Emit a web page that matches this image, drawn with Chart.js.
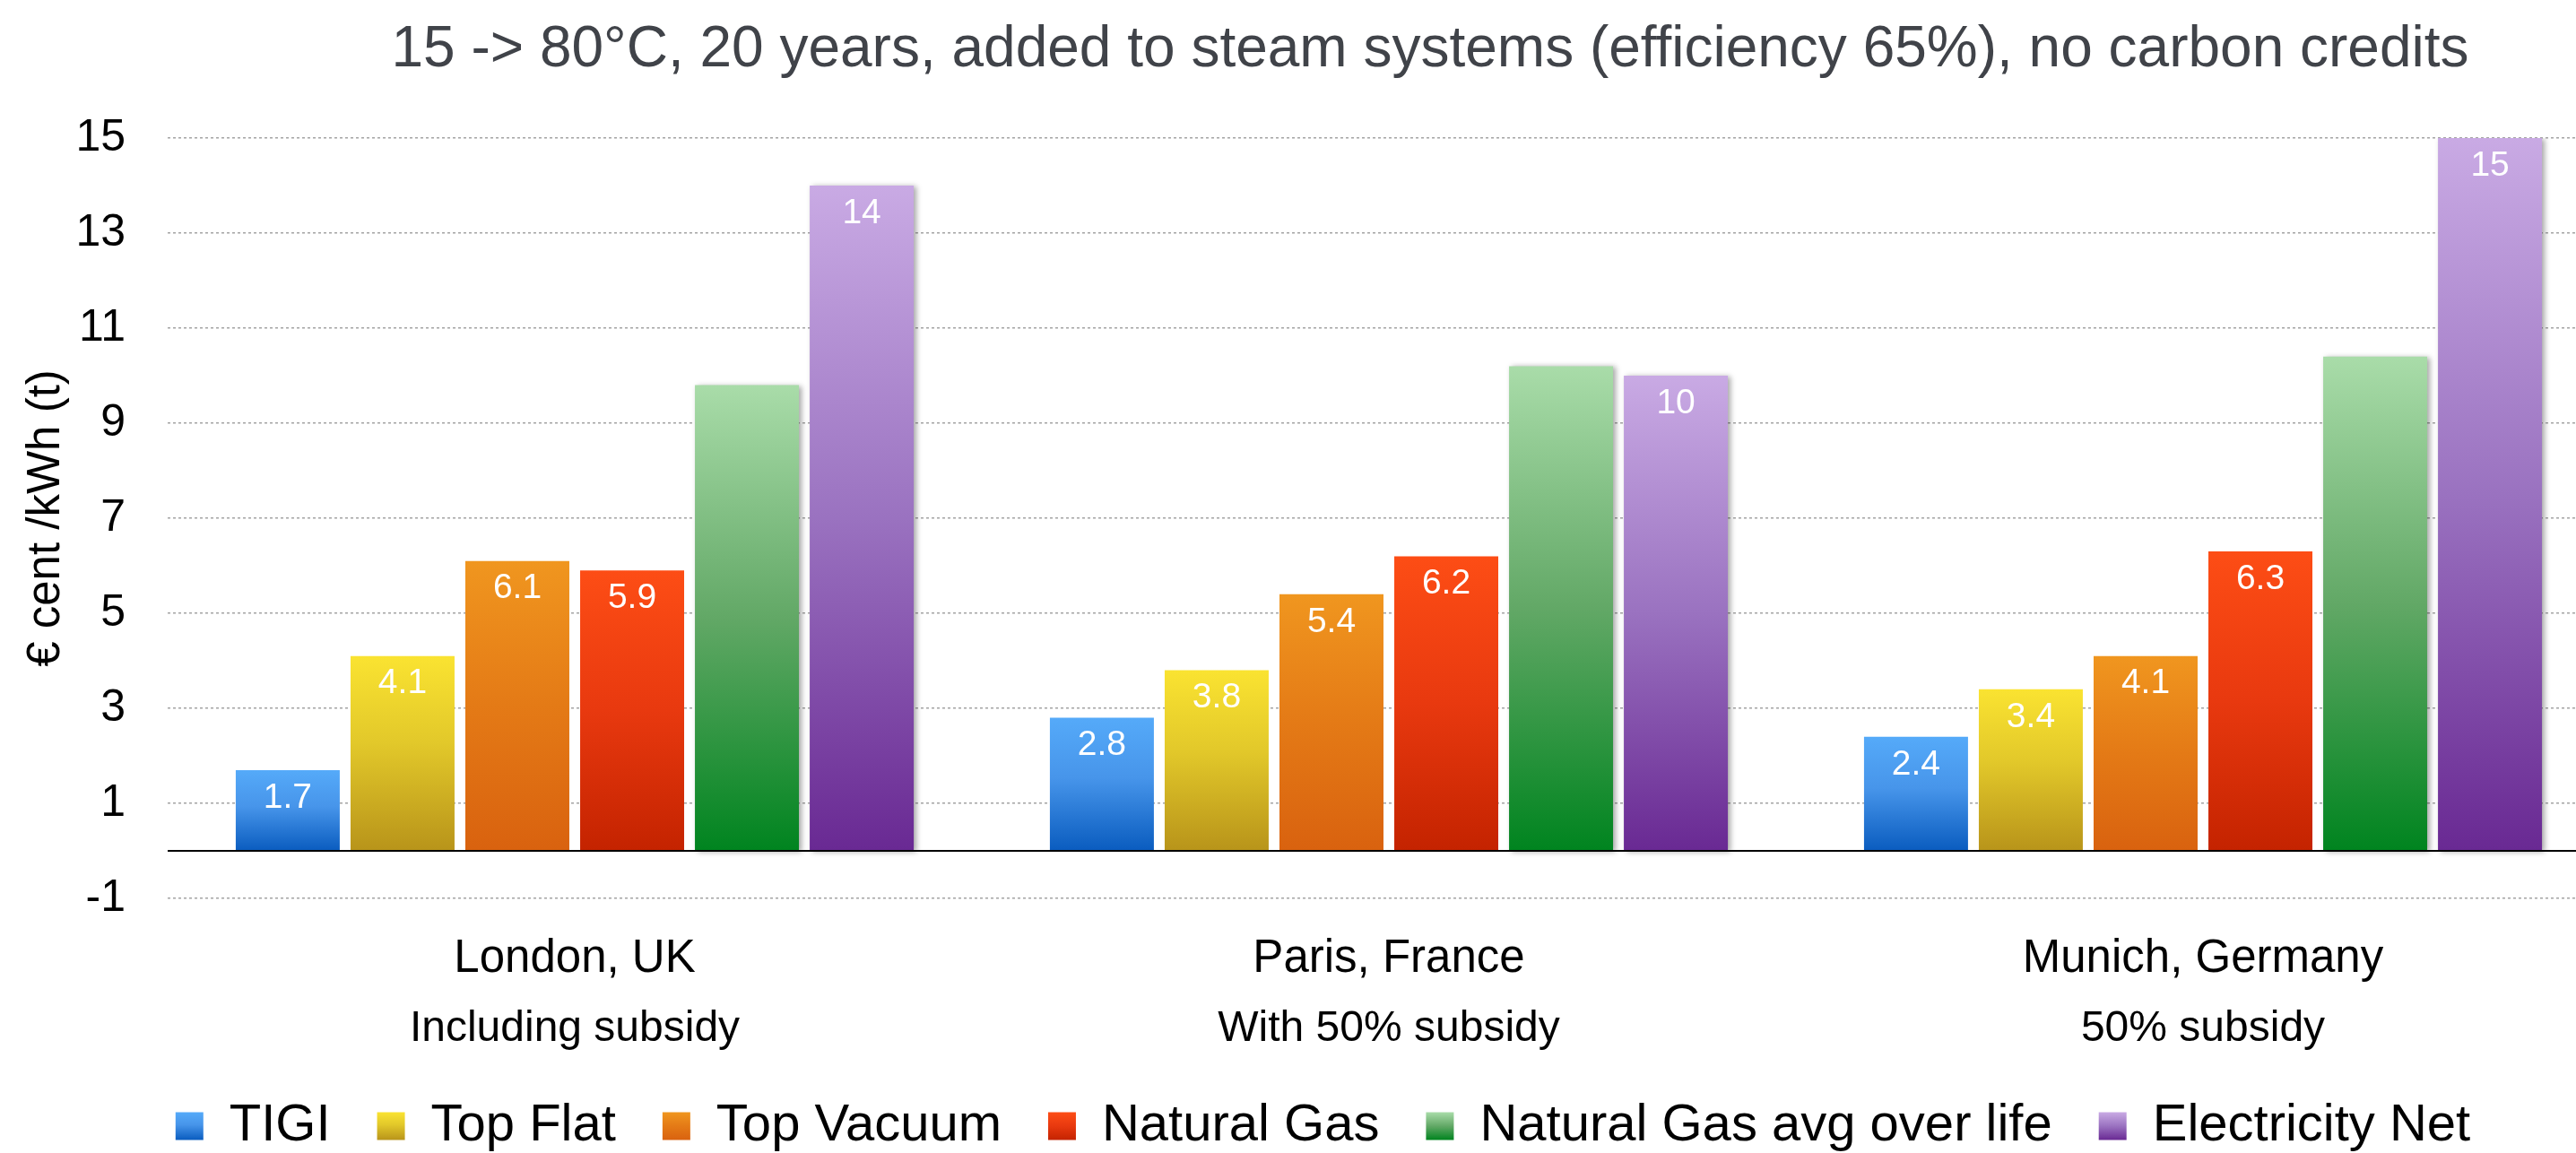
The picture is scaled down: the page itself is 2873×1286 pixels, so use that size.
<!DOCTYPE html>
<html>
<head>
<meta charset="utf-8">
<script src="https://cdn.jsdelivr.net/npm/chart.js@4.4.1/dist/chart.umd.min.js"></script>
<style>
  html, body { margin: 0; padding: 0; overflow: hidden; background: #fff; }
  .chart_box { width: 2911px; height: 1295px; }
</style>
</head>
<body>
<div class="chart_box"><canvas id="myChart"></canvas></div>
<script>
const titleText = '15 -> 80°C, 20 years, added to steam systems (efficiency 65%), no carbon credits';
const cities = ['London, UK', 'Paris, France', 'Munich, Germany'];
const subsidyNotes = ['Including subsidy', 'With 50% subsidy', '50% subsidy'];

const tigi = [1.7, 2.8, 2.4];
const topFlat = [4.1, 3.8, 3.4];
const topVacuum = [6.1, 5.4, 4.1];
const naturalGas = [5.9, 6.2, 6.3];
const naturalGasAvg = [9.8, 10.2, 10.4];
const electricityNet = [14, 10, 15];

const yMin = -1;
const yMax = 15;
const yStep = 2;

const fontFamily = '"Liberation Sans", Arial, sans-serif';

// top -> bottom colour stops for each series
const gradients = {
  tigi: [[0, '#55aaf9'], [0.45, '#4795ea'], [1, '#0a5cbf']],
  topFlat: [[0, '#fae331'], [0.45, '#e2c82a'], [1, '#b8941a']],
  topVacuum: [[0, '#f0961f'], [0.5, '#e47a16'], [1, '#d9620f']],
  naturalGas: [[0, '#fd4d15'], [0.5, '#e8390f'], [1, '#c42300']],
  naturalGasAvg: [[0, '#a9dca9'], [0.5, '#62a866'], [1, '#00841f']],
  electricityNet: [[0, '#c9aae4'], [0.5, '#9a72c0'], [1, '#692993']]
};

function makeGradient(ctx, top, bottom, stops) {
  const g = ctx.createLinearGradient(0, top, 0, bottom);
  stops.forEach(s => g.addColorStop(s[0], s[1]));
  return g;
}

function barFill(stops) {
  return function (context) {
    const chart = context.chart;
    if (context.type !== 'data' || !chart.chartArea) {
      return stops[1][1];
    }
    const y = chart.scales.y;
    const top = y.getPixelForValue(context.raw);
    const base = y.getPixelForValue(0);
    return makeGradient(chart.ctx, top, base, stops);
  };
}

const series = [
  { label: 'TIGI', data: tigi, stops: gradients.tigi, showValue: true },
  { label: 'Top Flat', data: topFlat, stops: gradients.topFlat, showValue: true },
  { label: 'Top Vacuum', data: topVacuum, stops: gradients.topVacuum, showValue: true },
  { label: 'Natural Gas', data: naturalGas, stops: gradients.naturalGas, showValue: true },
  { label: 'Natural Gas avg over life', data: naturalGasAvg, stops: gradients.naturalGasAvg, showValue: false, shadow: true },
  { label: 'Electricity Net', data: electricityNet, stops: gradients.electricityNet, showValue: true, shadow: true }
];

const legendBox = 31;
const legendFont = 58;

const chartDecor = {
  id: 'chartDecor',
  beforeDraw(chart) {
    // gradient legend swatches, once the legend has its place
    const legend = chart.legend;
    if (!legend || !legend.legendHitBoxes) return;
    legend.legendItems.forEach((item, i) => {
      const hb = legend.legendHitBoxes[i];
      const boxTop = hb.top + Math.max((legendFont - legendBox) / 2, 0);
      item.fillStyle = makeGradient(chart.ctx, boxTop, boxTop + legendBox, series[item.datasetIndex].stops);
      item.lineWidth = 0;
      item.strokeStyle = 'rgba(0,0,0,0)';
    });
  },
  beforeDatasetDraw(chart, args) {
    const ctx = chart.ctx;
    ctx.save();
    if (series[args.index].shadow) {
      ctx.shadowColor = 'rgba(0, 0, 0, 0.35)';
      ctx.shadowBlur = 6;
      ctx.shadowOffsetX = 3;
      ctx.shadowOffsetY = 1;
    }
  },
  afterDatasetDraw(chart) {
    chart.ctx.restore();
  },
  afterDatasetsDraw(chart) {
    const ctx = chart.ctx;
    const area = chart.chartArea;
    const zeroY = chart.scales.y.getPixelForValue(0);

    // zero line
    ctx.save();
    ctx.strokeStyle = '#000';
    ctx.lineWidth = 2;
    ctx.beginPath();
    ctx.moveTo(area.left, zeroY);
    ctx.lineTo(area.right, zeroY);
    ctx.stroke();

    // values inside the bars
    ctx.fillStyle = '#fff';
    ctx.font = '39px ' + fontFamily;
    ctx.textAlign = 'center';
    ctx.textBaseline = 'middle';
    series.forEach((s, di) => {
      if (!s.showValue) return;
      chart.getDatasetMeta(di).data.forEach((bar, i) => {
        ctx.fillText(String(s.data[i]), bar.x, bar.y + 31);
      });
    });
    ctx.restore();
  },
  afterDraw(chart) {
    const ctx = chart.ctx;
    ctx.save();
    ctx.fillStyle = '#404349';
    ctx.font = '64px ' + fontFamily;
    ctx.textAlign = 'center';
    ctx.textBaseline = 'alphabetic';
    ctx.fillText(titleText, 1595, 74);
    ctx.restore();
  }
};

document.addEventListener('DOMContentLoaded', () => {
  const ctx = document.getElementById('myChart').getContext('2d');

  const myChart = new Chart(ctx, {
    type: 'bar',
    data: {
      labels: cities,
      datasets: series.map(s => ({
        label: s.label,
        data: s.data,
        backgroundColor: barFill(s.stops),
        borderWidth: 0,
        categoryPercentage: 0.846,
        barPercentage: 0.906
      }))
    },
    plugins: [chartDecor],
    options: {
      responsive: true,
      maintainAspectRatio: false,
      devicePixelRatio: 1,
      animation: false,
      layout: {
        padding: { left: 40, right: 0, top: 154, bottom: 0 }
      },
      scales: {
        x: {
          position: 'bottom',
          weight: 0,
          grid: { display: false },
          border: { display: false },
          ticks: {
            color: '#000',
            padding: 29,
            font: { family: fontFamily, size: 51 }
          },
          afterFit(scale) { scale.height = 100; }
        },
        x2: {
          type: 'category',
          labels: subsidyNotes,
          position: 'bottom',
          weight: 1,
          offset: true,
          grid: { display: false },
          border: { display: false },
          ticks: {
            color: '#000',
            padding: 9,
            font: { family: fontFamily, size: 48 }
          },
          afterFit(scale) { scale.height = 73; }
        },
        y: {
          min: yMin,
          max: yMax,
          border: { display: false, dash: [3, 3] },
          grid: {
            color: '#a3a3a3',
            lineWidth: 1.5,
            drawTicks: false
          },
          ticks: {
            stepSize: yStep,
            color: '#000',
            padding: 47,
            font: { family: fontFamily, size: 50 }
          },
          title: {
            display: true,
            text: '€ cent /kWh (t)',
            color: '#000',
            font: { family: fontFamily, size: 51 },
            padding: { top: -19, bottom: 0 }
          },
          afterFit(scale) { scale.width = 147; }
        }
      },
      plugins: {
        title: { display: false },
        tooltip: { enabled: false },
        legend: {
          display: true,
          position: 'bottom',
          labels: {
            color: '#000',
            boxWidth: legendBox,
            boxHeight: legendBox,
            padding: 52,
            font: { family: fontFamily, size: legendFont }
          }
        }
      }
    }
  });
});
</script>
</body>
</html>
